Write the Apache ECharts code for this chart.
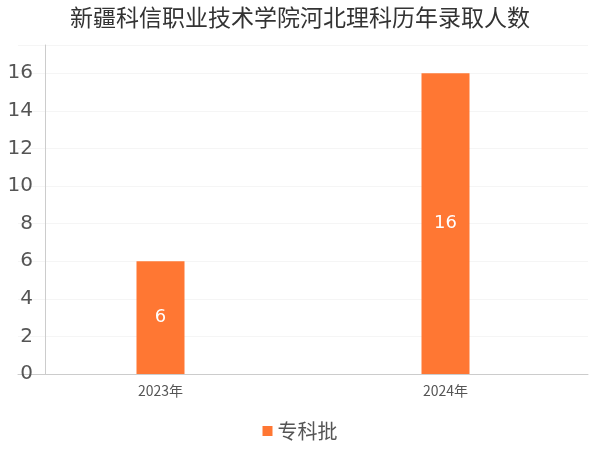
<!DOCTYPE html><html><head><meta charset="utf-8"><script src="https://cdn.jsdelivr.net/npm/echarts@6/dist/echarts.min.js"></script></head><body style="margin:0"><div id="c" style="width:600px;height:450px"></div><script>
const categories=['2023年','2024年'];
const values=[6,16];
const yTicks=[0,2,4,6,8,10,12,14,16];
const c=echarts.init(document.getElementById('c'));
c.setOption({
textStyle:{fontFamily:'DejaVu Sans'},
title:{text:'新疆科信职业技术学院河北理科历年录取人数',left:'center',top:1,textStyle:{fontSize:23,fontWeight:'normal',color:'#333',fontFamily:'Noto Sans CJK SC'}},
grid:{left:18,right:12,top:45,bottom:76},
legend:{bottom:4,itemWidth:10,itemHeight:10,icon:'rect',textStyle:{fontSize:20,color:'#555',fontFamily:'Noto Sans CJK SC'},data:['专科批']},
xAxis:{type:'category',data:categories,axisTick:{show:false},axisLine:{lineStyle:{color:'#ccc'}},axisLabel:{fontSize:14,color:'#555',margin:10,fontFamily:'Noto Sans CJK SC'}},
yAxis:{type:'value',min:0,max:17.5,interval:2,offset:-27,axisLine:{show:true,lineStyle:{color:'#ccc'}},axisLabel:{fontSize:20,color:'#555',margin:12,formatter:v=>yTicks.includes(v)?v:''},splitLine:{lineStyle:{color:'#f5f5f5'}}},
series:[{name:'专科批',type:'bar',data:values,barWidth:48,itemStyle:{color:'#FF7733'},label:{show:true,position:'inside',color:'#fff',fontSize:18}}]
});
</script></body></html>
